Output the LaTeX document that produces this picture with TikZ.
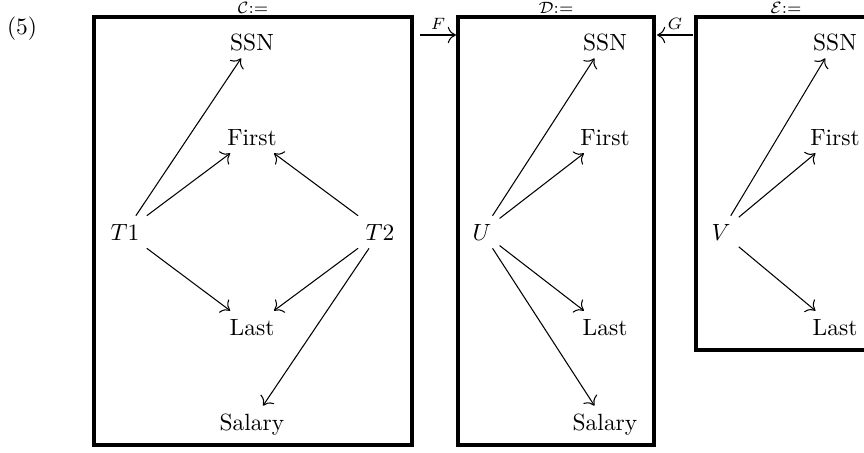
\documentclass[tikz,border=0pt]{standalone}
\usetikzlibrary{arrows.meta}
\begin{document}
\begin{tikzpicture}[x=0.426pt,y=-0.426pt,
  attr/.style={inner sep=3.33pt, text height=6.83pt, text depth=0pt},
  arr/.style={line width=0.45pt, -{To[length=3.5pt,width=7pt]}},
  frame/.style={line width=1.3pt},
  tag/.style={font=\scriptsize, inner sep=0pt}]
\useasboundingbox (0,0) rectangle (864,452);

\node (num) at (22,29) {(5)};

\draw[frame] (94,17) rectangle (412,445);
\draw[frame] (458,17) rectangle (654,445);
\draw[frame] (696,17) rectangle (876,350);
\node[tag] (nameC) at (253,8) {$\mathcal{C}{:=}$};
\node[tag] (nameD) at (556,8) {$\mathcal{D}{:=}$};
\node[tag] (nameE) at (786,8) {$\mathcal{E}{:=}$};

\foreach \b/\x in {C/252,D/605,E/835} {
        \node[attr] (ssn\b) at (\x,42) {SSN};
        \node[attr] (first\b) at (\x,137) {First};
        \node[attr] (last\b) at (\x,327) {Last};
 }
\node[attr] (salC) at (252,422) {Salary};
\node[attr] (salD) at (605,422) {Salary};

\node[attr] (t1) at (125,232) {$T1$};
\node[attr] (t2) at (380,232) {$T2$};
\node[attr] (u) at (482,232) {$U$};
\node[attr] (v) at (721,232) {$V$};

\foreach \t in {ssnC,firstC,lastC} \draw[arr] (t1) -- (\t);
\foreach \t in {firstC,lastC,salC} \draw[arr] (t2) -- (\t);
\foreach \t in {ssnD,firstD,lastD,salD} \draw[arr] (u) -- (\t);
\foreach \t in {ssnE,firstE,lastE} \draw[arr] (v) -- (\t);

\coordinate (fTail) at (420,35);
\coordinate (fHead) at (456,35);
\coordinate (gTail) at (693,35);
\coordinate (gHead) at (657,35);
\draw[arr] (fTail) -- node[tag, above=2pt] {$F$} (fHead);
\draw[arr] (gTail) -- node[tag, above=2pt] {$G$} (gHead);

\end{tikzpicture}
\end{document}
